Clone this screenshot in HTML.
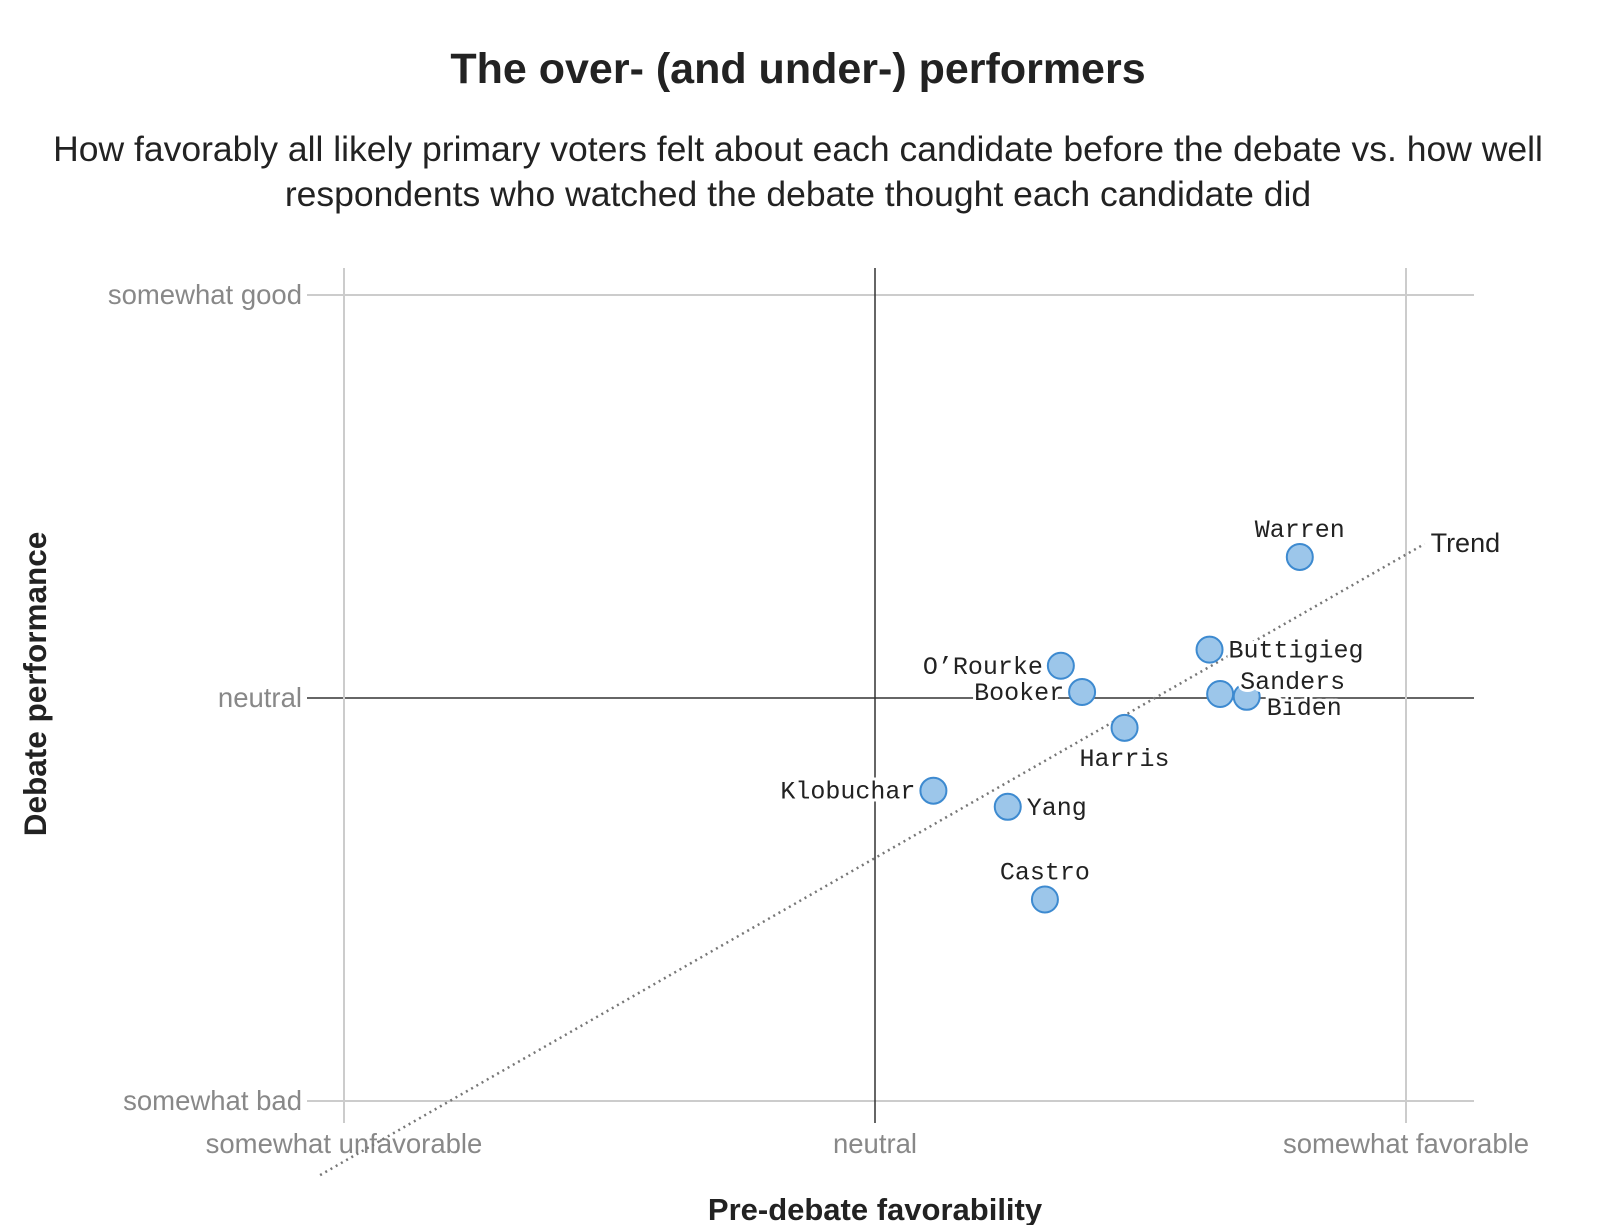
<!DOCTYPE html>
<html><head><meta charset="utf-8"><style>
body{margin:0;background:#fff;width:1600px;height:1225px;overflow:hidden;font-family:"Liberation Sans",sans-serif}
</style></head><body>
<svg width="1600" height="1225" xmlns="http://www.w3.org/2000/svg">
<text x="798" y="83" text-anchor="middle" font-size="43" font-weight="bold" fill="#222">The over- (and under-) performers</text>
<text x="798" y="161" text-anchor="middle" font-size="35.5" fill="#222">How favorably all likely primary voters felt about each candidate before the debate vs. how well</text>
<text x="798" y="206" text-anchor="middle" font-size="35.5" fill="#222">respondents who watched the debate thought each candidate did</text>
<g id="axes"></g>
<g id="marks"></g>
<text x="875" y="1220" text-anchor="middle" font-size="31" font-weight="bold" fill="#222">Pre-debate favorability</text>
<text transform="translate(46,684) rotate(-90)" text-anchor="middle" font-size="31.5" font-weight="bold" fill="#222">Debate performance</text>
</svg>
<script>
const names=["Warren","Buttigieg","O’Rourke","Booker","Sanders","Biden","Harris","Klobuchar","Yang","Castro"];
const favor=[0.80,0.63,0.35,0.39,0.65,0.70,0.47,0.11,0.25,0.32];
const perf=[0.35,0.12,0.08,0.015,0.01,0.003,-0.074,-0.23,-0.27,-0.50];
const labelPos=["above","right","left","left","right-up","right-down","below","left","right","above"];
const xTicks=[-1,0,1];
const xTickLabels=["somewhat unfavorable","neutral","somewhat favorable"];
const yTicks=[1,0,-1];
const yTickLabels=["somewhat good","neutral","somewhat bad"];
const trendX=[-1.045,1.035];
const trendSlope=0.753, trendIntercept=-0.397;

const NS="http://www.w3.org/2000/svg";
const xS=v=>875+v*531, yS=v=>698-v*403;
function mk(t,a,p){const e=document.createElementNS(NS,t);for(const k in a)e.setAttribute(k,a[k]);p.appendChild(e);return e;}
const ax=document.getElementById('axes'), mg=document.getElementById('marks');
yTicks.forEach((v,i)=>{
  const l=mk('line',{x1:307,x2:1474,y1:yS(v),y2:yS(v),stroke:v===0?'#333':'#ccc','stroke-width':v===0?1.5:2},ax);
  
  
  const t=mk('text',{x:302,y:yS(v)+9,'text-anchor':'end','font-size':27.5,fill:'#888'},ax);
  t.textContent=yTickLabels[i];
  
  
});
xTicks.forEach((v,i)=>{
  const l=mk('line',{x1:xS(v),x2:xS(v),y1:268,y2:1123,stroke:v===0?'#333':'#ccc','stroke-width':v===0?1.5:2},ax);
  
  
  const t=mk('text',{x:xS(v),y:1153,'text-anchor':'middle','font-size':27.5,fill:'#888'},ax);
  t.textContent=xTickLabels[i];
  
  
});
const tl=mk('line',{x1:xS(trendX[0]),y1:yS(trendSlope*trendX[0]+trendIntercept),x2:xS(trendX[1]),y2:yS(trendSlope*trendX[1]+trendIntercept),stroke:'#777','stroke-width':2.5,'stroke-dasharray':'2 4'},mg);


const tt=mk('text',{x:xS(trendX[1])+6,y:yS(trendSlope*trendX[1]+trendIntercept)+8,'font-size':27,fill:'#222'},mg);
tt.textContent='Trend';


names.forEach((n,i)=>{
  const cx=xS(favor[i]), cy=yS(perf[i]);
  const c=mk('circle',{cx:cx,cy:cy,r:13,fill:'#9cc6ea',stroke:'#3d8ad0','stroke-width':2},mg);
  
  
});
names.forEach((n,i)=>{
  const cx=xS(favor[i]), cy=yS(perf[i]), p=labelPos[i];
  let x=cx,y=cy,anc='middle';
  if(p==='above'){y=cy-20;}
  else if(p==='below'){y=cy+38;}
  else if(p==='left'){x=cx-18;anc='end';y=cy+8;}
  else if(p==='right'){x=cx+19;anc='start';y=cy+8;}
  else if(p==='right-up'){x=cx+20;anc='start';y=cy-5;}
  else if(p==='right-down'){x=cx+20;anc='start';y=cy+18;}
  const t=mk('text',{x:x,y:y,'text-anchor':anc,'font-size':25,fill:'#222','font-family':'Liberation Mono, monospace',stroke:'#fff','stroke-width':6,'paint-order':'stroke'},mg);
  t.textContent=n;
  
  
});
</script>
</body></html>
